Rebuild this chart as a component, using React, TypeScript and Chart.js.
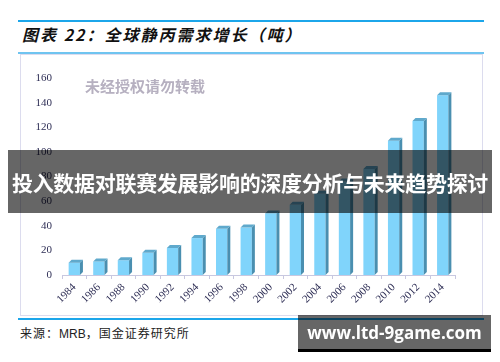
import React, { useEffect, useRef } from "react";
import { Chart, registerables } from "chart.js";

Chart.register(...registerables);

const years = ["1984", "1986", "1988", "1990", "1992", "1994", "1996", "1998", "2000", "2002", "2004", "2006", "2008", "2010", "2012", "2014"];
const demandTons = [10, 11, 12, 18, 22, 30, 37.5, 38.5, 50, 57, 66, 76, 86, 109, 125, 146];
const yTicks = [0, 20, 40, 60, 80, 100, 120, 140, 160];

const bar3d = {
  id: "bar3d",
  afterDatasetsDraw(chart: any) {
    const ctx = chart.ctx;
    const meta = chart.getDatasetMeta(0);
    const d = 3;
    ctx.save();
    meta.data.forEach((el: any) => {
      const { x, y, base, width } = el.getProps(["x", "y", "base", "width"], true);
      const l = x - width / 2;
      const r = x + width / 2;
      ctx.fillStyle = "#4a8fb0";
      ctx.beginPath();
      ctx.moveTo(r, y);
      ctx.lineTo(r + d, y - d);
      ctx.lineTo(r + d, base - d);
      ctx.lineTo(r, base);
      ctx.closePath();
      ctx.fill();
      ctx.fillStyle = "#5fa9cc";
      ctx.beginPath();
      ctx.moveTo(l, y);
      ctx.lineTo(l + d, y - d);
      ctx.lineTo(r + d, y - d);
      ctx.lineTo(r, y);
      ctx.closePath();
      ctx.fill();
    });
    ctx.restore();
  },
};

function BarChart() {
  const ref = useRef<HTMLCanvasElement>(null);
  useEffect(() => {
    if (!ref.current) return;
    const chart = new Chart(ref.current, {
      type: "bar",
      data: {
        labels: years,
        datasets: [
          {
            data: demandTons,
            backgroundColor: "#80d4fb",
            borderWidth: 0,
            barPercentage: 0.46,
            categoryPercentage: 1,
          },
        ],
      },
      options: {
        animation: false,
        responsive: false,
        maintainAspectRatio: false,
        layout: { padding: { left: 0, right: 28, top: 24, bottom: 0 } },
        plugins: { legend: { display: false }, tooltip: { enabled: false }, title: { display: false } },
        scales: {
          x: {
            grid: { display: true, drawOnChartArea: false, drawTicks: true, tickLength: 4, color: "#c8c8e0" },
            border: { display: true, color: "#c8c8e0", width: 1 },
            ticks: {
              minRotation: 45,
              maxRotation: 45,
              padding: 2,
              color: "#2e2e55",
              font: { family: "'Liberation Serif', 'DejaVu Serif', serif", size: 11 },
            },
            afterFit: (s: any) => {
              s.height = 41;
            },
          },
          y: {
            min: 0,
            max: 160,
            afterBuildTicks: (s: any) => {
              s.ticks = yTicks.map((v) => ({ value: v }));
            },
            grid: { display: false, drawTicks: false },
            border: { display: false },
            ticks: {
              padding: 10,
              color: "#2e2e55",
              font: { family: "'Liberation Serif', 'DejaVu Serif', serif", size: 11 },
            },
            afterFit: (s: any) => {
              s.width = 42;
            },
          },
        },
      },
      plugins: [bar3d],
    });
    return () => chart.destroy();
  }, []);
  return <canvas ref={ref} width={463} height={262} style={{ position: "absolute", left: 20, top: 54, width: 463, height: 262 }} />;
}

export default function App() {
  const cjk = "'Noto Sans CJK SC', 'Noto Sans', sans-serif";
  return (
    <div style={{ position: "absolute", left: 0, top: 0, width: 500, height: 362, background: "#fff", overflow: "hidden", fontFamily: cjk }}>
      <div style={{ position: "absolute", left: 18, top: 20, width: 466, height: 2, background: "#1ca6ea" }} />
      <div style={{ position: "absolute", left: 22, top: 23, fontSize: 16, fontWeight: 700, fontStyle: "italic", color: "#111", whiteSpace: "nowrap", lineHeight: "22px", letterSpacing: 2 }}>
        图表 22：全球静丙需求增长（吨）
      </div>
      <div style={{ position: "absolute", left: 18, top: 52, width: 466, height: 2, background: "#6fc4f0" }} />
      <div style={{ position: "absolute", left: 20, top: 54, width: 461, height: 260, border: "1px solid #dcdcee" }} />
      <BarChart />
      <div style={{ position: "absolute", left: 85, top: 77, fontSize: 15, fontWeight: 700, color: "#b6b0c0", whiteSpace: "nowrap", lineHeight: "18px" }}>
        未经授权请勿转载
      </div>
      <div style={{ position: "absolute", left: 18, top: 318, width: 466, height: 2, background: "#1ca6ea" }} />
      <div style={{ position: "absolute", left: 20, top: 324, fontSize: 12, color: "#222", whiteSpace: "nowrap", lineHeight: "18px", letterSpacing: 1 }}>
        来源：<span style={{ fontFamily: "'Liberation Sans', Arial, sans-serif", letterSpacing: 0 }}>MRB</span>，国金证券研究所
      </div>
      <div style={{ position: "absolute", left: 8, top: 150, width: 484, height: 63, background: "rgba(0,0,0,0.6)", display: "flex", alignItems: "center", justifyContent: "center" }}>
        <span style={{ color: "#fff", fontSize: 21, fontWeight: 700, whiteSpace: "nowrap", letterSpacing: -0.3 }}>投入数据对联赛发展影响的深度分析与未来趋势探讨</span>
      </div>
      <div style={{ position: "absolute", left: 298, top: 315, width: 193, height: 34, background: "rgba(0,0,0,0.6)", borderBottom: "3px solid #000", display: "flex", alignItems: "center", justifyContent: "center" }}>
        <span style={{ color: "#fff", fontSize: 17, fontWeight: 700, whiteSpace: "nowrap", fontFamily: "'Open Sans', 'DejaVu Sans', sans-serif" }}>www.ltd-9game.com</span>
      </div>
    </div>
  );
}
